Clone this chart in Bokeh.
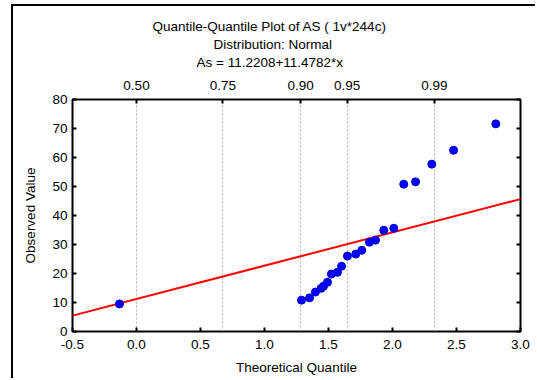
from bokeh.plotting import figure
from bokeh.models import (LinearAxis, FixedTicker, Grid, Title, Range1d)
from bokeh.embed import file_html
from bokeh.resources import INLINE

# ---- data ----
theoretical_q = [-0.133, 1.289, 1.352, 1.398, 1.443, 1.461, 1.492, 1.523, 1.570, 1.602,
                 1.648, 1.713, 1.760, 1.820, 1.867, 1.932, 2.010, 2.088, 2.180, 2.307,
                 2.477, 2.807]
observed = [9.5, 10.8, 11.6, 13.6, 14.9, 15.6, 17.0, 19.8, 20.4, 22.5,
            26.0, 26.7, 28.0, 30.8, 31.5, 34.9, 35.6, 50.8, 51.6, 57.7,
            62.5, 71.6]
intercept = 11.2208
slope = 11.4782
prob_labels = ["0.50", "0.75", "0.90", "0.95", "0.99"]
prob_positions = [0.0, 0.6745, 1.2816, 1.6449, 2.3263]
x_ticks = [-0.5, 0.0, 0.5, 1.0, 1.5, 2.0, 2.5, 3.0]
y_ticks = [0, 10, 20, 30, 40, 50, 60, 70, 80]
title_lines = ["Quantile-Quantile Plot of AS ( 1v*244c)",
               "Distribution: Normal",
               "As = 11.2208+11.4782*x"]
title_left_offsets = [80, 141, 124]
title_paddings = [(0, 0, 0, 1), (0, 0, 0, 1), (0, 0, 0, 8)]

FONT = "Liberation Sans"
FS = "13.5px"

p = figure(width=524, height=374, output_backend="svg", toolbar_location=None,
           x_range=Range1d(-0.5, 3.0), y_range=Range1d(0, 80),
           min_border_left=59, min_border_right=17, min_border_top=93,
           min_border_bottom=49,
           x_axis_label="Theoretical Quantile", y_axis_label="Observed Value")
p.styles = {"border-left": "2px solid black", "border-top": "2px solid black",
            "margin-left": "11px", "margin-top": "4px"}

p.outline_line_color = "black"
p.outline_line_width = 2
p.background_fill_color = "white"
p.border_fill_color = "white"

p.xgrid.visible = False
p.ygrid.visible = False
p.add_layout(Grid(dimension=0, ticker=FixedTicker(ticks=prob_positions),
                  grid_line_color="#b0b0b0", grid_line_dash="2 2", grid_line_width=1))


def style_axis(ax):
    ax.axis_line_color = None
    ax.major_tick_in = 4
    ax.major_tick_out = 0
    ax.major_tick_line_color = "black"
    ax.major_tick_line_width = 2
    ax.minor_tick_line_color = None
    ax.major_label_text_font = FONT
    ax.major_label_text_font_size = FS
    ax.major_label_text_color = "black"
    ax.axis_label_text_font = FONT
    ax.axis_label_text_font_size = FS
    ax.axis_label_text_font_style = "normal"
    ax.axis_label_text_color = "black"


xa = p.xaxis[0]
style_axis(xa)
xa.ticker = FixedTicker(ticks=x_ticks)
xa.major_label_overrides = {v: f"{v:.1f}" for v in x_ticks}
xa.major_label_standoff = 8
xa.axis_label_standoff = 8

ya = p.yaxis[0]
style_axis(ya)
ya.ticker = FixedTicker(ticks=y_ticks)
ya.major_label_standoff = 5
ya.axis_label_standoff = 11

right_ax = LinearAxis(ticker=FixedTicker(ticks=y_ticks))
style_axis(right_ax)
right_ax.major_label_text_color = None
right_ax.major_label_standoff = 0
p.add_layout(right_ax, "right")

top_ax = LinearAxis(ticker=FixedTicker(ticks=prob_positions))
style_axis(top_ax)
top_ax.major_label_overrides = {pos: lab for pos, lab in zip(prob_positions, prob_labels)}
top_ax.major_label_standoff = 10
p.add_layout(top_ax, "above")

for line, off, pad in reversed(list(zip(title_lines, title_left_offsets, title_paddings))):
    t = Title(text=line, align="left", offset=off, text_font=FONT,
              text_font_size="13.5px", text_font_style="normal",
              text_color="black", standoff=0, padding=pad)
    p.add_layout(t, "above")

# fitted line
fit_x = [x_ticks[0], x_ticks[-1]]
fit_y = [intercept + slope * v for v in fit_x]
p.line(fit_x, fit_y, line_color="red", line_width=2)

p.scatter(theoretical_q, observed, size=8, marker="circle",
          fill_color="#0000ff", line_color="#0000c0", line_width=1)

open("out.html", "w").write(file_html(p, INLINE))
